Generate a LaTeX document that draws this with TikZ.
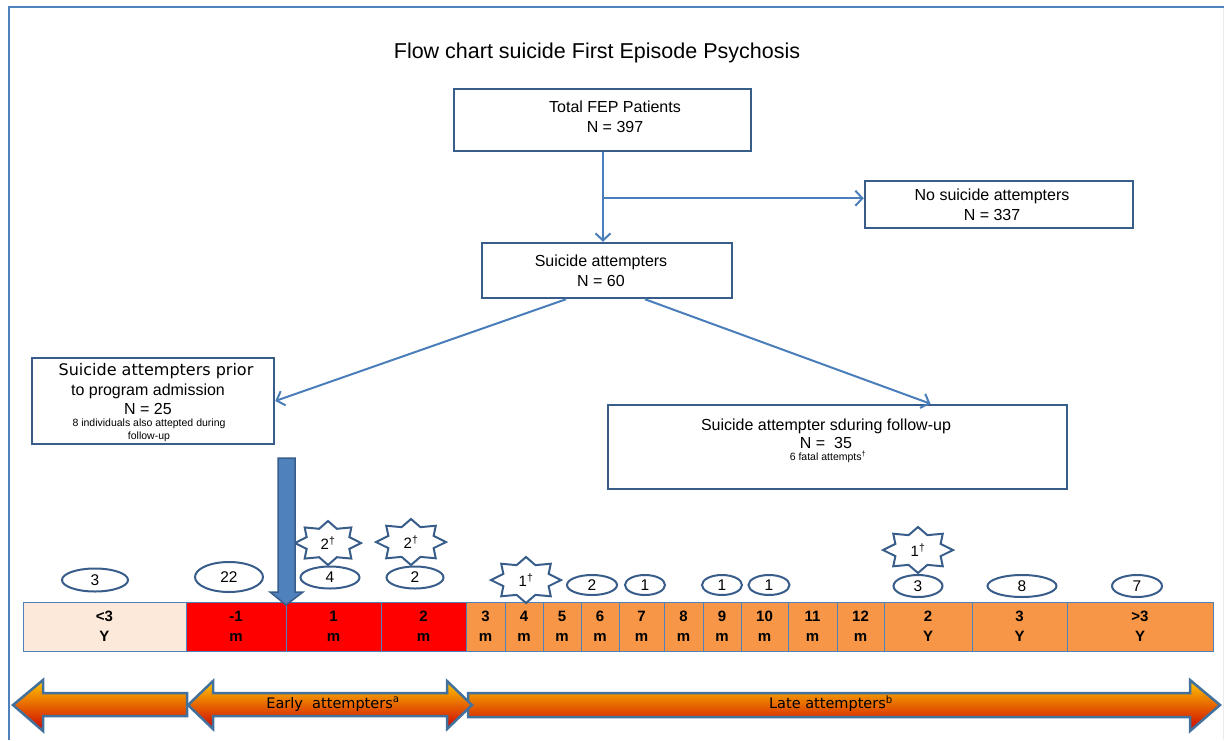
\documentclass[tikz,border=0pt]{standalone}
\usepackage{fontspec}
\setmainfont{Liberation Sans}
\newfontfamily\dejavu{DejaVu Sans}
\usetikzlibrary{shapes.geometric,arrows.meta}
\definecolor{boxblue}{RGB}{56,93,138}
\definecolor{linkblue}{RGB}{74,126,187}
\definecolor{cellblue}{RGB}{79,129,189}
\definecolor{frameblue}{RGB}{79,129,189}
\definecolor{peach}{RGB}{253,233,217}
\definecolor{cellred}{RGB}{255,0,0}
\definecolor{cellorange}{RGB}{247,150,70}
\definecolor{bigfill}{RGB}{79,129,189}
\definecolor{arrowedge}{RGB}{65,113,156}
\definecolor{gtop}{RGB}{255,200,0}
\definecolor{gmid}{RGB}{255,125,0}
\definecolor{gbot}{RGB}{205,0,0}
\tikzset{
  box/.style={draw=boxblue, line width=2.5pt, fill=white, inner sep=0pt},
  txt/.style={align=center, inner sep=0pt, font=\fontsize{16}{19.5}\selectfont},
  smalltxt/.style={align=center, inner sep=0pt, font=\fontsize{10.5}{13}\selectfont},
  link/.style={draw=linkblue, line width=2pt, -{Straight Barb[length=7pt,width=15pt]}},
  cellbox/.style={draw=cellblue, line width=1pt, minimum height=49pt, inner sep=0pt, align=center, font=\bfseries\fontsize{15}{20}\selectfont},
  bubble/.style={ellipse, draw=boxblue, line width=2pt, fill=white, inner sep=0pt, font=\fontsize{15.5}{16}\selectfont},
  burst/.style={draw=boxblue, line width=2pt, fill=white, line join=miter},
  bursttxt/.style={inner sep=0pt, font=\fontsize{15}{16}\selectfont},
  blockarrow/.style={draw=arrowedge, line width=2.5pt, top color=gtop, middle color=gmid, bottom color=gbot, line join=miter},
  bandtxt/.style={inner sep=0pt, font=\dejavu\fontsize{14.5}{16}\selectfont},
}
\newcommand\burstat[6]{%
  \pgfmathsetmacro\rxi{0.7*#4}\pgfmathsetmacro\ryi{0.7*#5}%
  \draw[burst] (#2,#3) +(0:#4 and #5)
    \foreach \a in {0,45,...,315}{ -- +(\a:#4 and #5) -- +(\a+22.5:{\rxi} and {\ryi}) } -- cycle;
  \node[bursttxt] (#1) at (#2,#3) {#6};}
\begin{document}
\begin{tikzpicture}[x=1pt,y=-1pt]
\useasboundingbox (0,0) rectangle (1224,740);
% frame
\draw[frameblue, line width=2pt] (8,7) -- (1224,7);
\draw[frameblue, line width=2pt] (9,7) -- (9,740);
\draw[black!8, line width=1pt] (1223,8) -- (1223,740);
% title
\node[inner sep=0pt, font=\fontsize{21.5}{24}\selectfont] (title) at (597,53) {Flow chart suicide First Episode Psychosis};
% boxes
\node[box, minimum width=297pt, minimum height=62pt] (tot) at (602.5,120) {};
\node[txt] (totT) at (615,117) {Total FEP Patients\\N = 397};
\node[box, minimum width=268pt, minimum height=47pt] (nosa) at (999,204.5) {};
\node[txt] (nosaT) at (992,205) {No suicide attempters\\N = 337};
\node[box, minimum width=250pt, minimum height=55pt] (sa) at (607,270.5) {};
\node[txt] (saT) at (601,271) {Suicide attempters\\N = 60};
\node[box, minimum width=242pt, minimum height=86pt] (prior) at (153,401) {};
\node[txt] (priorT) at (148,389) {\hspace*{16pt}{\dejavu Suicide attempters prior}\\to program admission\\N = 25};
\node[smalltxt] (priorN) at (149,430) {8 individuals also attepted during\\follow-up};
\node[box, minimum width=459pt, minimum height=84pt] (fu) at (837.5,447) {};
\node[txt, font=\fontsize{16}{17.5}\selectfont] (fuT) at (826,434) {Suicide attempter sduring follow-up\\N = \ 35};
\node[smalltxt] (fuN) at (828,457) {6 fatal attempts\textsuperscript{†}};
% connectors
\draw[link] (tot.south -| sa.north) ++(-4,0) coordinate (top1) -- ([xshift=-4pt]sa.north);
\coordinate (br) at ([yshift=-46pt]top1);
\draw[link] (br) -- (br -| nosa.west);
\draw[link] ([xshift=-41pt]sa.south) -- (prior.east);
\draw[link] ([xshift=38pt]sa.south) -- ([xshift=93pt]fu.north);
% timeline cells
\node[cellbox, fill=peach, minimum width=163pt] (c0) at (104.5,626.5) {<3\\Y};
\node[cellbox, fill=cellred, minimum width=100pt] (c1) at (236,626.5) {-1\\m};
\node[cellbox, fill=cellred, minimum width=95pt] (c2) at (333.5,626.5) {1\\m};
\node[cellbox, fill=cellred, minimum width=85pt] (c3) at (423.5,626.5) {2\\m};
\node[cellbox, fill=cellorange, minimum width=39pt] (c4) at (485.5,626.5) {3\\m};
\node[cellbox, fill=cellorange, minimum width=38pt] (c5) at (524,626.5) {4\\m};
\node[cellbox, fill=cellorange, minimum width=38pt] (c6) at (562,626.5) {5\\m};
\node[cellbox, fill=cellorange, minimum width=38pt] (c7) at (600,626.5) {6\\m};
\node[cellbox, fill=cellorange, minimum width=45pt] (c8) at (641.5,626.5) {7\\m};
\node[cellbox, fill=cellorange, minimum width=39pt] (c9) at (683.5,626.5) {8\\m};
\node[cellbox, fill=cellorange, minimum width=38pt] (c10) at (722,626.5) {9\\m};
\node[cellbox, fill=cellorange, minimum width=47pt] (c11) at (764.5,626.5) {10\\m};
\node[cellbox, fill=cellorange, minimum width=49pt] (c12) at (812.5,626.5) {11\\m};
\node[cellbox, fill=cellorange, minimum width=47pt] (c13) at (860.5,626.5) {12\\m};
\node[cellbox, fill=cellorange, minimum width=88pt] (c14) at (928,626.5) {2\\Y};
\node[cellbox, fill=cellorange, minimum width=95pt] (c15) at (1019.5,626.5) {3\\Y};
\node[cellbox, fill=cellorange, minimum width=146pt] (c16) at (1140,626.5) {>3\\Y};
% bubbles
\node[bubble, minimum width=66pt, minimum height=23pt] (e0) at (95,580) {3};
\node[bubble, minimum width=68pt, minimum height=30pt] (e1) at (229,577) {22};
\node[bubble, minimum width=59pt, minimum height=22pt] (e2) at (330,577.5) {4};
\node[bubble, minimum width=57pt, minimum height=22pt] (e3) at (415,577.5) {2};
\node[bubble, minimum width=50pt, minimum height=20pt] (e4) at (592,585) {2};
\node[bubble, minimum width=40pt, minimum height=20pt] (e5) at (645,585) {1};
\node[bubble, minimum width=40pt, minimum height=20pt] (e6) at (722,585) {1};
\node[bubble, minimum width=41pt, minimum height=20pt] (e7) at (769,585) {1};
\node[bubble, minimum width=49pt, minimum height=22pt] (e8) at (918,586) {3};
\node[bubble, minimum width=69pt, minimum height=22pt] (e9) at (1022,586) {8};
\node[bubble, minimum width=50pt, minimum height=22pt] (e10) at (1137,586) {7};
% bursts
\burstat{s1}{328}{543}{33}{22}{2\textsuperscript{†}}
\burstat{s2}{411}{542}{35}{23}{2\textsuperscript{†}}
\burstat{s3}{526}{580}{35}{23}{1\textsuperscript{†}}
\burstat{s4}{918}{550}{35}{23}{1\textsuperscript{†}}
% big blue arrow
\draw[draw=boxblue, fill=bigfill, line width=1.5pt, line join=miter]
  (278,458) -- (295,458) -- (295,592) -- (303,592) -- (286,605) -- (270,592) -- (278,592) -- cycle;
% bottom band arrows
\draw[blockarrow] (468,693) -- (1190,693) -- (1190,680) -- (1220,705) -- (1190,731) -- (1190,717) -- (468,717) -- cycle;
\draw[blockarrow] (13,705) -- (43,680) -- (43,693) -- (187,693) -- (187,716) -- (43,716) -- (43,731) -- cycle;
\draw[blockarrow] (188,705) -- (213,681) -- (213,693) -- (447,693) -- (447,681) -- (472,705) -- (447,729) -- (447,716) -- (213,716) -- (213,729) -- cycle;
\node[bandtxt] (early) at (333,704) {Early\ \ attempters\textsuperscript{a}};
\node[bandtxt] (late) at (831,704) {Late attempters\textsuperscript{b}};
\end{tikzpicture}
\end{document}
